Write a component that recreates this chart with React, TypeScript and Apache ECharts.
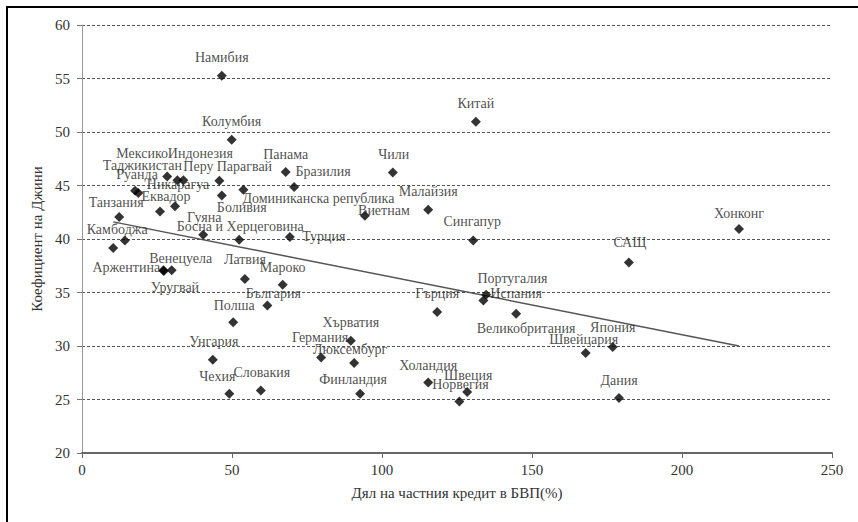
import React, { useEffect, useRef } from "react";
import * as echarts from "echarts";

const countries = [
  "Намибия", "Китай", "Колумбия", "Чили", "Панама", "Мексико", "Индонезия", "Перу", "Парагвай",
  "Доминиканска република", "Руанда", "Таджикистан", "Боливия", "Никарагуа", "Еквадор", "Бразилия",
  "Танзания", "Гуяна", "Босна и Херцеговина", "Турция", "", "Камбоджа", "Аржентина", "Венецуела",
  "Уругвай", "Латвия", "Мароко", "България", "Полша", "Унгария", "Чехия", "Словакия", "Хърватия",
  "Германия", "Люксембург", "Финландия", "Малайзия", "Виетнам", "Сингапур", "Хонконг", "САЩ",
  "Португалия", "Испания", "Гърция", "Великобритания", "Швейцария", "Япония", "Холандия", "Швеция",
  "Норвегия", "Дания",
];
const privateCredit = [
  46.6, 131.3, 49.9, 103.6, 67.9, 28.4, 31.8, 33.8, 45.8,
  53.8, 17.7, 18.8, 46.6, 31.0, 26.0, 70.7,
  12.4, 40.4, 52.4, 69.3, 14.3, 10.4, 27.1, 29.9,
  27.3, 54.3, 66.9, 61.8, 50.4, 43.6, 49.1, 59.6, 89.6,
  79.7, 90.7, 92.7, 115.4, 94.3, 130.4, 219.0, 182.3,
  133.8, 134.7, 118.4, 144.7, 167.9, 176.9, 115.4, 128.4,
  125.8, 179.0,
];
const gini = [
  55.26, 50.96, 49.28, 46.22, 46.26, 45.85, 45.48, 45.48, 45.45,
  44.61, 44.51, 44.3, 44.07, 43.05, 42.58, 44.86,
  42.06, 40.4, 39.93, 40.19, 39.87, 39.16, 37.07, 37.07,
  37.0, 36.26, 35.73, 33.79, 32.21, 28.72, 25.54, 25.85, 30.5,
  28.93, 28.41, 25.54, 42.74, 42.18, 39.87, 40.93, 37.81,
  34.26, 34.79, 33.18, 33.02, 29.35, 29.91, 26.6, 25.7,
  24.82, 25.14,
];
// label placement (pixels, relative to marker)
const labelOffsetX = [
  0, 0, 0, 1, 0, -25, 23, 15, 25,
  75, 2, 4, 20, 3, 6, 29,
  -3, 1, 1, 34, 0, 4, -37, 9,
  11, 0, 0, 6, 1, 1, -12, 1, 0,
  -1, -4, -7, 0, 19, -1, 0, 1,
  29, 30, 0, 10, -2, 0, 0, 1,
  1, 0,
];
const labelOffsetY = [
  -18, -18, -18, -18, -18, -23, -27, -14, -14,
  9, -16, -27, 12, -22, -15, -15,
  -14, -17, -13, 0, 0, -18, -3, -12,
  16, -20, -17, -12, -17, -18, -17, -18, -18,
  -20, -14, -14, -18, -5, -19, -16, -20,
  -22, -1, -18, 15, -13, -19, -17, -17,
  -17, -18,
];
const trendX = [10.4, 219];
const trendY = [41.6, 30.0];

const xName = "Дял на частния кредит в БВП(%)";
const yName = "Коефициент на Джини";

export default function App() {
  const ref = useRef<HTMLDivElement>(null);
  useEffect(() => {
    if (!ref.current) return;
    const chart = echarts.init(ref.current, null, { renderer: "svg" });
    const font = "'Liberation Serif', 'Times New Roman', serif";
    const scatterData = countries.map((name, i) => ({
      name,
      value: [privateCredit[i], gini[i]],
      label: name
        ? { show: true, offset: [labelOffsetX[i], labelOffsetY[i]] }
        : { show: false },
    }));
    chart.setOption({
      animation: false,
      backgroundColor: "#ffffff",
      grid: { left: 82, right: 26, top: 25, bottom: 69 },
      xAxis: {
        type: "value",
        min: 0,
        max: 250,
        interval: 50,
        name: xName,
        nameLocation: "middle",
        nameGap: 32,
        nameTextStyle: { fontFamily: font, fontSize: 15, color: "#333" },
        axisLine: { show: true, lineStyle: { color: "#666", width: 2 } },
        axisTick: { show: true, length: 5, lineStyle: { color: "#666" } },
        axisLabel: { fontFamily: font, fontSize: 15, color: "#333", margin: 9 },
        splitLine: { show: false },
      },
      yAxis: {
        type: "value",
        min: 20,
        max: 60,
        interval: 5,
        name: yName,
        nameLocation: "middle",
        nameGap: 38,
        nameRotate: 90,
        nameTextStyle: { fontFamily: font, fontSize: 15, color: "#333" },
        axisLine: { show: true, lineStyle: { color: "#999", width: 1 } },
        axisTick: { show: true, length: 5, lineStyle: { color: "#777" } },
        axisLabel: { fontFamily: font, fontSize: 15, color: "#333", margin: 12 },
        splitLine: { show: true, lineStyle: { type: [3, 2], color: "#555", width: 1 } },
      },
      series: [
        {
          type: "line",
          data: trendX.map((x, i) => [x, trendY[i]]),
          symbol: "none",
          lineStyle: { color: "#555", width: 1.5 },
          z: 1,
        },
        {
          type: "scatter",
          symbol: "diamond",
          symbolSize: 10,
          itemStyle: { color: "#000" },
          data: scatterData,
          label: {
            show: true,
            position: "inside",
            formatter: "{b}",
            fontFamily: font,
            fontSize: 14,
            color: "#222",
          },
          z: 3,
        },
      ],
      graphic: [
        {
          type: "rect",
          silent: true,
          z: 100,
          shape: { x: 7, y: 7, width: 1000, height: 1000 },
          style: { fill: "none", stroke: "#000", lineWidth: 2 },
        },
      ],
    });
    return () => chart.dispose();
  }, []);
  return (
    <div
      ref={ref}
      style={{ position: "fixed", left: 0, top: 0, width: 858, height: 522 }}
    />
  );
}
